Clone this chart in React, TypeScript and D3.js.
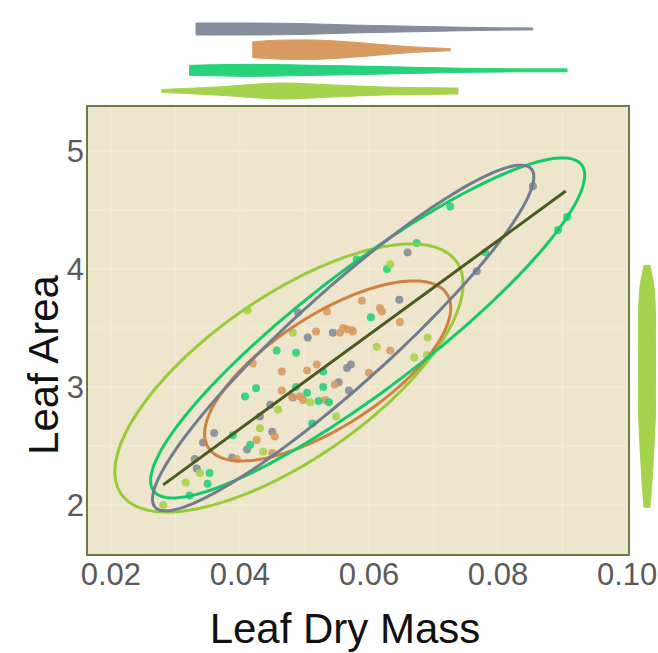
import React, { useEffect, useRef } from 'react';
import * as d3 from 'd3';

type Pt = [number, number];

// groups, in the order of the marginal violins (top to bottom)
const groupNames = ['slate', 'amber', 'emerald', 'lime'];

// scatter points: [leaf dry mass, leaf area]
const slatePoints: Pt[] = [
  [0.0490, 3.63], [0.0505, 3.42], [0.0544, 3.46], [0.0566, 3.16], [0.0572, 3.19],
  [0.0553, 3.04], [0.0569, 2.97], [0.0447, 2.85], [0.0482, 2.91], [0.0431, 2.75],
  [0.0360, 2.61], [0.0343, 2.53], [0.0450, 2.62], [0.0411, 2.47], [0.0388, 2.40],
  [0.0330, 2.39], [0.0333, 2.31], [0.0660, 4.14], [0.0767, 3.98], [0.0647, 3.74],
  [0.0854, 4.70],
];
const amberPoints: Pt[] = [
  [0.0535, 3.64], [0.0518, 3.47], [0.0555, 3.46], [0.0566, 3.49], [0.0575, 3.47],
  [0.0420, 3.20], [0.0465, 3.13], [0.0504, 3.14], [0.0519, 3.19], [0.0465, 2.97],
  [0.0547, 3.02], [0.0481, 2.92], [0.0493, 2.92], [0.0498, 2.89], [0.0532, 2.89],
  [0.0426, 2.55], [0.0454, 2.58], [0.0450, 2.44], [0.0395, 2.39], [0.0589, 3.73],
  [0.0617, 3.67], [0.0620, 3.64], [0.0648, 3.55], [0.0560, 3.50], [0.0574, 3.48],
  [0.0633, 3.31], [0.0600, 3.12],
];
const emeraldPoints: Pt[] = [
  [0.0457, 3.31], [0.0487, 3.29], [0.0529, 3.13], [0.0425, 2.99], [0.0408, 2.92],
  [0.0487, 3.00], [0.0504, 2.95], [0.0529, 3.00], [0.0522, 2.88], [0.0538, 2.87],
  [0.0389, 2.59], [0.0416, 2.51], [0.0512, 2.69], [0.0353, 2.27], [0.0350, 2.18],
  [0.0322, 2.08], [0.0726, 4.53], [0.0907, 4.44], [0.0893, 4.33], [0.0674, 4.22],
  [0.0628, 4.00], [0.0581, 4.08], [0.0780, 4.14], [0.0603, 3.59],
];
const limePoints: Pt[] = [
  [0.0412, 3.65], [0.0482, 3.46], [0.0459, 2.81], [0.0509, 2.87], [0.0431, 2.65],
  [0.0436, 2.45], [0.0549, 2.75], [0.0338, 2.27], [0.0316, 2.19], [0.0281, 2.00],
  [0.0633, 4.04], [0.0691, 3.42], [0.0612, 3.34], [0.0670, 3.25], [0.0690, 3.27],
];

// confidence ellipses: [centre x, centre y, spread x, spread y, correlation]
const slateEllipse = [0.0560, 3.415, 0.02955, 1.465, 0.932];
const amberEllipse = [0.0536, 3.136, 0.01907, 0.763, 0.70];
const emeraldEllipse = [0.0598, 3.50, 0.03364, 1.441, 0.898];
const limeEllipse = [0.0476, 3.076, 0.02698, 1.136, 0.70];

// fitted line end points
const fitLine: Pt[] = [[0.0281, 2.17], [0.0905, 4.66]];

// marginal densities along leaf dry mass: [x, relative density]
const slateDensity: Pt[] = [
  [0.0332, 0.6], [0.0415, 0.6], [0.0493, 0.55], [0.0571, 0.4], [0.0648, 0.3],
  [0.0726, 0.2], [0.0803, 0.12], [0.0854, 0.1],
];
const amberDensity: Pt[] = [
  [0.0420, 0.8], [0.0462, 0.95], [0.0524, 0.95], [0.0586, 0.7], [0.0622, 0.5],
  [0.0664, 0.3], [0.0726, 0.1],
];
const emeraldDensity: Pt[] = [
  [0.0322, 0.5], [0.0416, 0.6], [0.0519, 0.5], [0.0602, 0.4], [0.0674, 0.3],
  [0.0752, 0.2], [0.0834, 0.15], [0.0907, 0.15],
];
const limeDensity: Pt[] = [
  [0.0279, 0.15], [0.0364, 0.4], [0.0462, 0.8], [0.0544, 0.6], [0.0622, 0.4],
  [0.0738, 0.3],
];
// marginal density of the lime group along leaf area: [y, relative density]
const limeAreaDensity: Pt[] = [
  [4.03, 0.3], [3.85, 0.7], [3.6, 0.85], [3.2, 0.85], [2.8, 0.85], [2.5, 0.7],
  [2.2, 0.5], [1.98, 0.3],
];

const xTicks = [0.02, 0.04, 0.06, 0.08, 0.10];
const yTicks = [2, 3, 4, 5];
const xGrid = [0.02, 0.03, 0.04, 0.05, 0.06, 0.07, 0.08, 0.09, 0.10];
const yGrid = [2, 2.5, 3, 3.5, 4, 4.5, 5];

const App = () => {
  const svgRef = useRef<SVGSVGElement | null>(null);

  useEffect(() => {
    const width = 658;
    const height = 653;
    const left = 87;
    const right = 629;
    const top = 106;
    const bottom = 555;
    const font = '"Liberation Sans", Arial, sans-serif';

    const fills: Record<string, string> = {
      slate: '#848d9b', amber: '#d99a60', emerald: '#27d27a', lime: '#a6d34e',
    };
    const strokes: Record<string, string> = {
      slate: '#717c8e', amber: '#cf8141', emerald: '#15c96a', lime: '#98cb3a',
    };
    const points: Record<string, Pt[]> = {
      slate: slatePoints, amber: amberPoints, emerald: emeraldPoints, lime: limePoints,
    };
    const ellipses: Record<string, number[]> = {
      slate: slateEllipse, amber: amberEllipse, emerald: emeraldEllipse, lime: limeEllipse,
    };
    const densities: Record<string, Pt[]> = {
      slate: slateDensity, amber: amberDensity, emerald: emeraldDensity, lime: limeDensity,
    };

    const svg = d3.select(svgRef.current);
    svg.selectAll('*').remove();
    svg.attr('width', width).attr('height', height);

    const x = d3.scaleLinear().domain([0.0163, 0.1003]).range([left, right]);
    const y = d3.scaleLinear().domain([1.576, 5.381]).range([bottom, top]);
    const w = d3.scaleLinear().domain([0, 1]).range([0, 10]);
    const rowY = d3.scalePoint<string>().domain(groupNames).range([29, 91]);

    // panel
    svg.append('rect')
      .attr('x', left).attr('y', top)
      .attr('width', right - left).attr('height', bottom - top)
      .attr('fill', '#ede6cd');

    svg.append('g').selectAll('line').data(xGrid).join('line')
      .attr('x1', d => x(d)).attr('x2', d => x(d))
      .attr('y1', top).attr('y2', bottom)
      .attr('stroke', '#f1ebd7').attr('stroke-width', 1.5);
    svg.append('g').selectAll('line').data(yGrid).join('line')
      .attr('y1', d => y(d)).attr('y2', d => y(d))
      .attr('x1', left).attr('x2', right)
      .attr('stroke', '#f1ebd7').attr('stroke-width', 1.5);

    const plot = svg.append('g');

    // scatter points
    groupNames.forEach(g => {
      plot.append('g').selectAll('circle').data(points[g]).join('circle')
        .attr('cx', d => x(d[0])).attr('cy', d => y(d[1]))
        .attr('r', 4)
        .attr('fill', fills[g])
        .attr('opacity', 0.9);
    });

    // ellipses
    const angles = d3.range(0, 360, 2).map(a => (a * Math.PI) / 180);
    ['lime', 'amber', 'emerald', 'slate'].forEach(g => {
      const [cx, cy, sx, sy, r] = ellipses[g];
      const pts = angles.map(t => [
        x(cx + sx * Math.cos(t)),
        y(cy + sy * (r * Math.cos(t) + Math.sqrt(1 - r * r) * Math.sin(t))),
      ] as [number, number]);
      plot.append('path')
        .attr('d', d3.line().curve(d3.curveLinearClosed)(pts))
        .attr('fill', 'none')
        .attr('stroke', strokes[g])
        .attr('stroke-width', 3);
    });

    // fitted line
    plot.append('path')
      .attr('d', d3.line<Pt>().x(d => x(d[0])).y(d => y(d[1]))(fitLine))
      .attr('stroke', '#4b5b1f')
      .attr('stroke-width', 3)
      .attr('fill', 'none');

    // panel border
    svg.append('rect')
      .attr('x', left).attr('y', top)
      .attr('width', right - left).attr('height', bottom - top)
      .attr('fill', 'none')
      .attr('stroke', '#6e7b45')
      .attr('stroke-width', 2);

    // marginal violins on top
    groupNames.forEach(g => {
      const cy = rowY(g) as number;
      const area = d3.area<Pt>()
        .x(d => x(d[0]))
        .y0(d => cy - w(d[1]))
        .y1(d => cy + w(d[1]))
        .curve(d3.curveCatmullRom);
      svg.append('path')
        .attr('d', area(densities[g]))
        .attr('fill', fills[g])
        .attr('stroke', fills[g])
        .attr('stroke-width', 1);
    });

    // marginal violin on the right
    const sideX = 647;
    const sideArea = d3.area<Pt>()
      .y(d => y(d[0]))
      .x0(d => sideX - w(d[1]))
      .x1(d => sideX + w(d[1]))
      .curve(d3.curveCatmullRom);
    svg.append('path')
      .attr('d', sideArea(limeAreaDensity))
      .attr('fill', fills.lime)
      .attr('stroke', fills.lime)
      .attr('stroke-width', 1);

    // tick labels
    svg.append('g').selectAll('text').data(xTicks).join('text')
      .attr('x', d => x(d)).attr('y', 585)
      .attr('text-anchor', 'middle')
      .style('font-family', font).style('font-size', '31px')
      .style('fill', '#5a5a5a')
      .text(d => d3.format('.2f')(d));
    svg.append('g').selectAll('text').data(yTicks).join('text')
      .attr('x', 84).attr('y', d => y(d))
      .attr('dy', '0.36em')
      .attr('text-anchor', 'end')
      .style('font-family', font).style('font-size', '31px')
      .style('fill', '#5a5a5a')
      .text(d => String(d));

    // axis titles
    svg.append('text')
      .attr('x', 345).attr('y', 643)
      .attr('text-anchor', 'middle')
      .style('font-family', font).style('font-size', '42px')
      .style('fill', '#111')
      .text('Leaf Dry Mass');
    svg.append('text')
      .attr('transform', 'translate(58, 365) rotate(-90)')
      .attr('text-anchor', 'middle')
      .style('font-family', font).style('font-size', '42px')
      .style('fill', '#111')
      .text('Leaf Area');
  }, []);

  return (
    <div style={{ position: 'absolute', left: 0, top: 0, width: 658, height: 653, background: '#fff' }}>
      <svg ref={svgRef} style={{ display: 'block' }}></svg>
    </div>
  );
};

export default App;
